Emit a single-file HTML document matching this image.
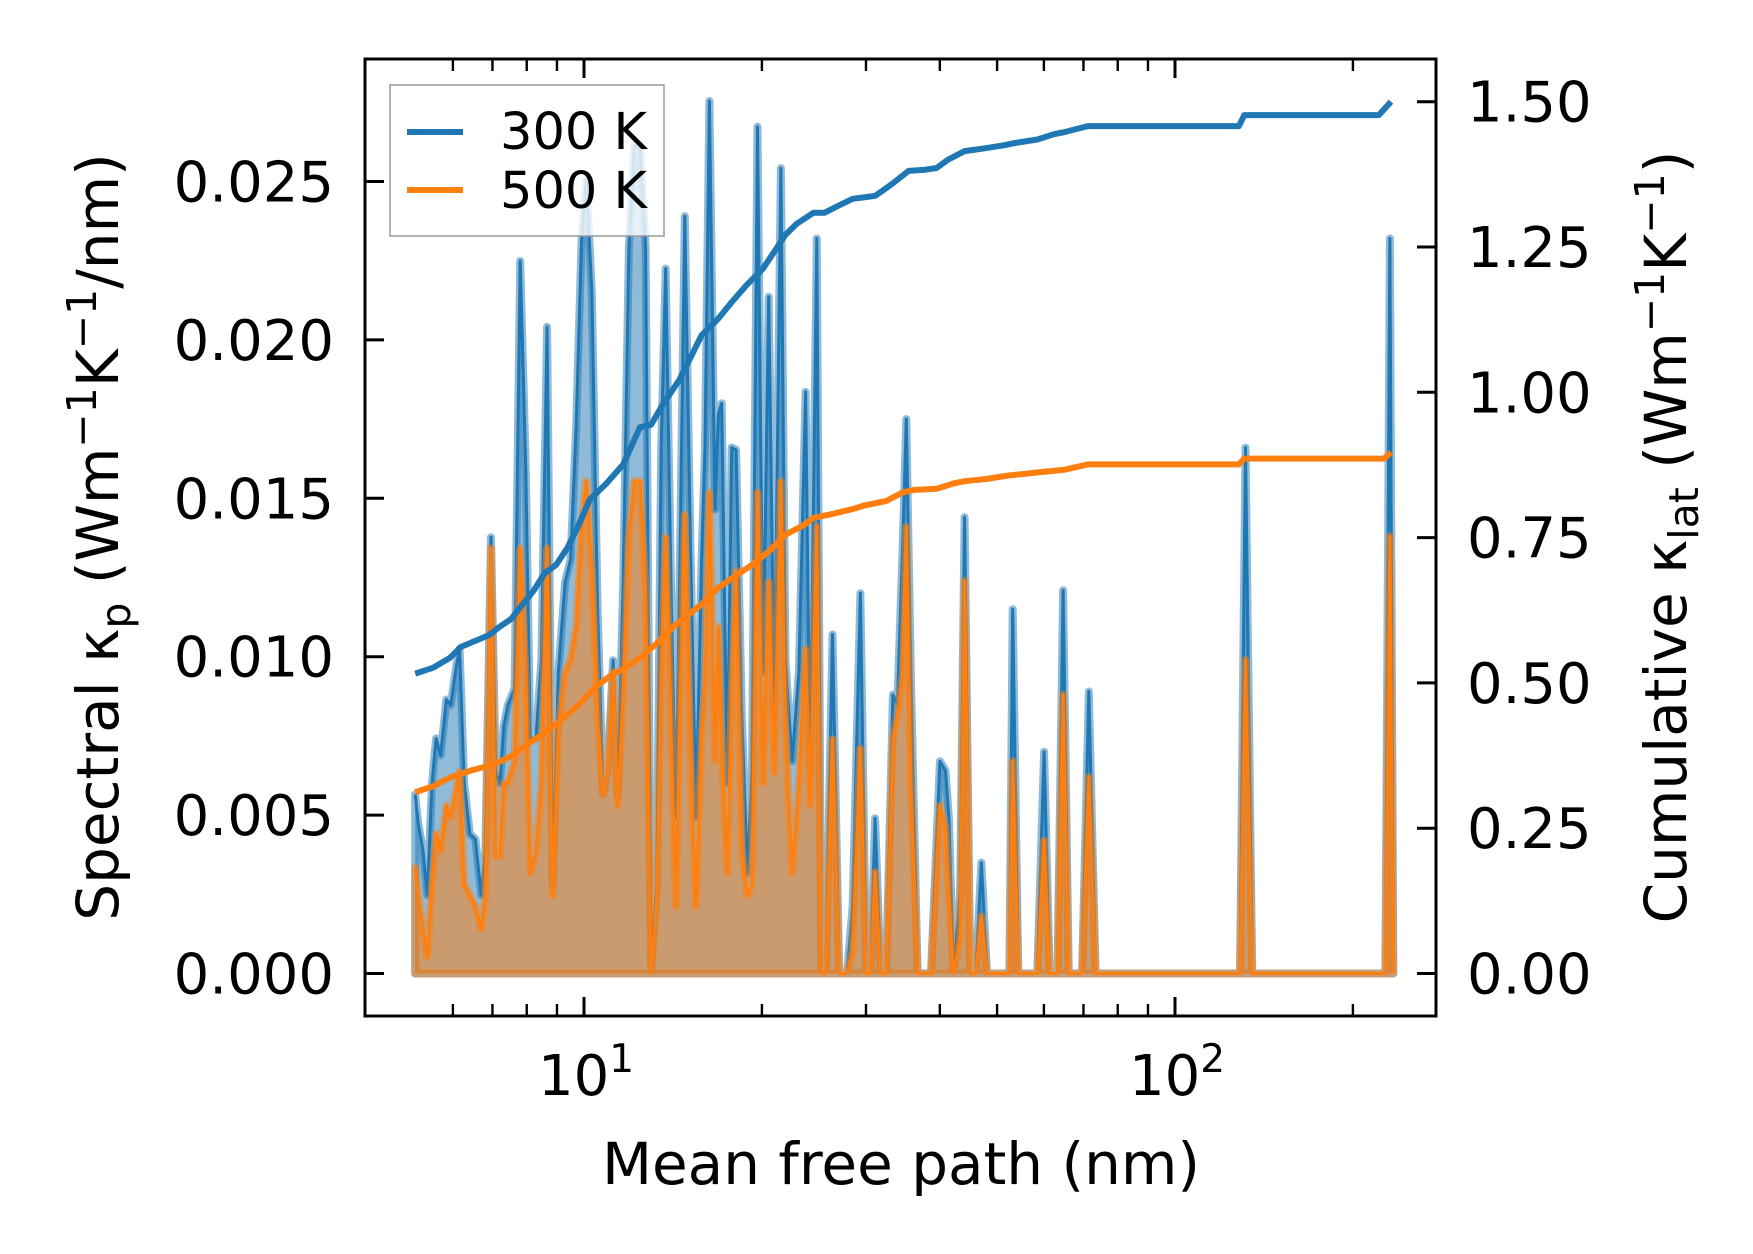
<!DOCTYPE html>
<html><head><meta charset="utf-8"><style>
html,body{margin:0;padding:0;background:#fff;}
svg{display:block;font-family:"DejaVu Sans","Liberation Sans",sans-serif;}
</style></head><body>
<svg id="chart" width="1753" height="1254" viewBox="0 0 1753 1254" xmlns="http://www.w3.org/2000/svg">
<g id="plot"></g>
<g id="axes"></g>
</svg>
<script>
const mfp=[5.18,5.24,5.34,5.43,5.53,5.62,5.72,5.85,5.95,6.08,6.16,6.27,6.41,6.55,6.70,6.81,6.96,7.09,7.21,7.31,7.43,7.63,7.80,7.97,8.11,8.29,8.47,8.66,8.85,9.05,9.29,9.49,9.70,9.91,10.09,10.31,10.54,10.77,10.96,11.20,11.40,11.65,11.91,12.17,12.44,12.71,12.99,13.28,13.51,13.75,14.05,14.30,14.55,14.81,15.13,15.47,15.81,16.02,16.30,16.66,16.88,17.10,17.47,17.78,18.09,18.49,18.90,19.24,19.66,20.09,20.54,20.99,21.54,21.92,22.50,23.10,23.71,24.13,24.77,25.21,25.65,26.33,27.03,27.51,27.86,28.48,29.36,30.01,30.54,31.08,31.76,32.46,33.32,33.91,34.66,35.11,35.73,36.68,37.32,38.65,40.02,40.90,41.44,42.17,43.29,44.05,45.02,46.01,47.03,48.07,49.13,52.45,53.14,54.31,58.49,60.04,61.36,63.27,64.66,66.09,69.63,71.48,73.38,125.5,128.8,131.6,135.1,221.2,227.0,231.0,234.1];
const spec300=[.00565,.00477,.00388,.00247,.0060,.00742,.00689,.00865,.00847,.00971,.01024,.0060,.00441,.00424,.00247,.00388,.01377,.00636,.0060,.00777,.00847,.0090,.02249,.01589,.00742,.00742,.00989,.02041,.00282,.00953,.01236,.01307,.0173,.0233,.02507,.02154,.01165,.00565,.00636,.00989,.00565,.01236,.02295,.02613,.02613,.02295,.0002,.00282,.0166,.02225,.01165,.00494,.01377,.0239,.01377,.00494,.01307,.0166,.02754,.01465,.01766,.018,.006,.0166,.01653,.00812,.00318,.00636,.02673,.00953,.02136,.00847,.02542,.00989,.00671,.00953,.01836,.00636,.0232,0,0,.0107,0,0,0,.0021,.012,0,0,.0049,0,0,.0088,.0085,.0138,.0175,.0095,0,0,0,.0067,.0064,.0049,0,.0025,.0144,0,0,.0035,0,0,0,.0115,0,0,.007,0,0,.0121,0,0,.0089,0,0,0,.0166,0,0,0,.0232,0];
const spec500=[.00335,.00247,.00141,.00053,.00282,.00441,.00388,.0053,.00494,.00583,.00636,.00282,.00247,.00212,.00141,.00247,.01342,.00371,.00371,.006,.006,.00671,.01342,.00918,.00318,.00388,.006,.01342,.00247,.00777,.00953,.00989,.01095,.01412,.01554,.01271,.00812,.00565,.00636,.00953,.0053,.00883,.01377,.01554,.01554,.012,0,.00247,.00953,.01377,.00742,.00212,.00883,.01448,.00706,.00212,.00742,.00918,.01518,.00671,.01095,.00706,.00318,.00883,.01271,.00388,.00247,.00282,.01518,.006,.01236,.00636,.01554,.00777,.00318,.006,.01024,.0053,.01412,0,0,.0074,0,0,0,.0007,.0071,0,0,.0032,0,0,.0074,.0081,.0095,.0141,.006,0,0,0,.0053,.0046,.0025,0,.0011,.0124,0,0,.0018,0,0,0,.0067,0,0,.0042,0,0,.0088,0,0,.0062,0,0,0,.0099,0,0,0,.0138,0];
const cumX300=[5.18,5.55,5.93,6.19,6.61,6.90,7.21,7.53,7.87,8.22,8.58,8.97,9.37,9.78,10.22,10.91,11.65,12.44,12.99,13.57,14.49,15.13,15.81,16.88,17.78,18.82,20.09,20.99,21.92,22.90,24.45,25.54,26.68,28.48,31.08,33.18,35.42,37.81,39.50,41.26,44.05,47.03,51.32,53.60,58.49,62.44,65.23,71.16,81.12,128.2,131.0,221.2,232.0];
const cum300=[0.516,0.526,0.543,0.562,0.574,0.582,0.597,0.610,0.635,0.659,0.689,0.703,0.732,0.770,0.815,0.843,0.876,0.940,0.944,0.978,1.021,1.059,1.098,1.127,1.155,1.184,1.213,1.242,1.271,1.290,1.309,1.309,1.319,1.333,1.338,1.358,1.381,1.383,1.386,1.400,1.415,1.419,1.425,1.429,1.435,1.444,1.448,1.458,1.458,1.458,1.477,1.477,1.500];
const cumX500=[5.18,5.55,5.93,6.47,7.05,7.53,8.04,8.58,9.17,9.78,10.45,11.15,11.65,12.44,13.28,14.18,15.13,15.81,16.88,18.02,19.24,20.54,21.92,23.41,24.45,26.10,28.48,29.75,32.46,34.66,36.20,39.50,42.17,44.05,48.07,52.45,59.77,65.23,71.16,128.2,131.0,226.0,232.0];
const cum500=[0.312,0.322,0.337,0.350,0.360,0.374,0.395,0.414,0.437,0.462,0.493,0.514,0.524,0.543,0.568,0.597,0.620,0.635,0.664,0.684,0.703,0.726,0.755,0.770,0.784,0.790,0.799,0.805,0.813,0.828,0.832,0.834,0.843,0.847,0.851,0.857,0.863,0.867,0.876,0.876,0.886,0.886,0.897];
const leftTicks=[0,0.005,0.010,0.015,0.020,0.025];
const leftTickLabels=["0.000","0.005","0.010","0.015","0.020","0.025"];
const rightTicks=[0,0.25,0.5,0.75,1.0,1.25,1.5];
const rightTickLabels=["0.00","0.25","0.50","0.75","1.00","1.25","1.50"];
const xMajor=[10,100];
const xMinor=[6,7,8,9,20,30,40,50,60,70,80,90,200];

const L=365,R=1436,T=59,B=1016;
const sx=v=>584+591*(Math.log10(v)-1);
const syL=v=>973.5-v*31680;
const syR=v=>973.5-v*(145.3/0.25);
const NS="http://www.w3.org/2000/svg";
function mk(tag,attrs,parent){const e=document.createElementNS(NS,tag);for(const k in attrs)e.setAttribute(k,attrs[k]);parent.appendChild(e);return e;}
const plot=document.getElementById('plot'),axes=document.getElementById('axes');

function specPath(ys){return mfp.map((x,i)=>(i?'L':'M')+sx(x).toFixed(1)+','+syL(ys[i]).toFixed(1)).join('');}
function fillPath(ys){return specPath(ys)+'L'+sx(mfp[mfp.length-1]).toFixed(1)+','+syL(0)+'L'+sx(mfp[0]).toFixed(1)+','+syL(0)+'Z';}

let f=mk('path',{d:fillPath(spec300),fill:'rgba(31,119,180,0.5)',stroke:'rgba(31,119,180,0.5)','stroke-width':8,'stroke-linejoin':'round'},plot);


let l=mk('path',{d:specPath(spec300),fill:'none',stroke:'#1f77b4','stroke-width':3,'stroke-linejoin':'round'},plot);


f=mk('path',{d:fillPath(spec500),fill:'rgba(255,127,14,0.52)',stroke:'rgba(255,127,14,0.5)','stroke-width':8,'stroke-linejoin':'round'},plot);


l=mk('path',{d:specPath(spec500),fill:'none',stroke:'#ff7f0e','stroke-width':3,'stroke-linejoin':'round'},plot);


function cumPath(xs,ys){return xs.map((x,i)=>(i?'L':'M')+sx(x).toFixed(1)+','+syR(ys[i]).toFixed(1)).join('');}
l=mk('path',{d:cumPath(cumX300,cum300),fill:'none',stroke:'#1f77b4','stroke-width':6,'stroke-linejoin':'round'},plot);


l=mk('path',{d:cumPath(cumX500,cum500),fill:'none',stroke:'#ff7f0e','stroke-width':6,'stroke-linejoin':'round'},plot);



let fr=mk('rect',{x:L,y:T,width:R-L,height:B-T,fill:'none',stroke:'#000','stroke-width':3},axes);



leftTicks.forEach((v,i)=>{const y=syL(v);
 const t=mk('line',{x1:L,x2:L+19,y1:y,y2:y,stroke:'#000','stroke-width':3},axes);
 
 
 const tx=mk('text',{x:334,y:y+20,'text-anchor':'end','font-size':56,fill:'#000'},axes);tx.textContent=leftTickLabels[i];
 
 });
rightTicks.forEach((v,i)=>{const y=syR(v);
 const t=mk('line',{x1:R-19,x2:R,y1:y,y2:y,stroke:'#000','stroke-width':3},axes);
 
 
 const tx=mk('text',{x:1467,y:y+20,'font-size':56,fill:'#000'},axes);tx.textContent=rightTickLabels[i];
 
 });
xMajor.forEach(v=>{const x=sx(v);
 [[B,B-19],[T,T+19]].forEach(p=>{const t=mk('line',{x1:x,x2:x,y1:p[0],y2:p[1],stroke:'#000','stroke-width':3},axes);
 
 });
 const tx=mk('text',{x:x+2,y:1095,'text-anchor':'middle','font-size':56,fill:'#000'},axes);
 
 
 tx.appendChild(document.createTextNode('10'));
 const s=mk('tspan',{'font-size':39,dy:-23},tx);s.textContent=(v===10?'1':'2');});
xMinor.forEach(v=>{const x=sx(v);
 [[B,B-12],[T,T+12]].forEach(p=>{const t=mk('line',{x1:x,x2:x,y1:p[0],y2:p[1],stroke:'#000','stroke-width':2.4},axes);
 
 });});
</script>
<svg style="position:absolute;left:0;top:0" width="1753" height="1254">
<text x="901" y="1184" text-anchor="middle" font-size="58" font-family="DejaVu Sans, Liberation Sans, sans-serif">Mean free path (nm)</text>
<text transform="translate(118,537) rotate(-90)" text-anchor="middle" font-size="58" font-family="DejaVu Sans, Liberation Sans, sans-serif">Spectral κ<tspan font-size="41" dy="12">p</tspan><tspan dy="-12"> (Wm</tspan><tspan font-size="41" dy="-22">−1</tspan><tspan dy="22">K</tspan><tspan font-size="41" dy="-22">−1</tspan><tspan dy="22">/nm)</tspan></text>
<text transform="translate(1686,537) rotate(-90)" text-anchor="middle" font-size="58" font-family="DejaVu Sans, Liberation Sans, sans-serif">Cumulative κ<tspan font-size="41" dy="12">lat</tspan><tspan dy="-12"> (Wm</tspan><tspan font-size="41" dy="-22">−1</tspan><tspan dy="22">K</tspan><tspan font-size="41" dy="-22">−1</tspan><tspan dy="22">)</tspan></text>
<g>
<rect x="390" y="85" width="274" height="151" fill="rgba(255,255,255,0.8)" stroke="#999" stroke-width="1.5"/>
<line x1="407" x2="463" y1="132" y2="132" stroke="#1f77b4" stroke-width="6"/>
<text x="500" y="149" font-size="51" font-family="DejaVu Sans, Liberation Sans, sans-serif">300 K</text>
<line x1="407" x2="463" y1="190" y2="190" stroke="#ff7f0e" stroke-width="6"/>
<text x="500" y="208" font-size="51" font-family="DejaVu Sans, Liberation Sans, sans-serif">500 K</text>
</g>
</svg>
</body></html>
